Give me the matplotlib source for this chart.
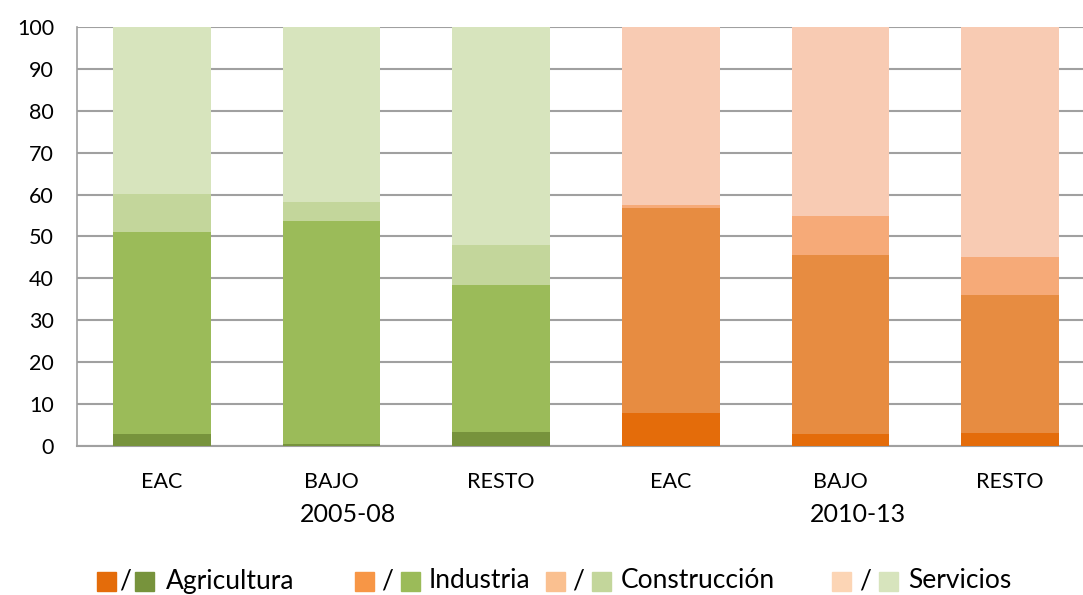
import matplotlib
matplotlib.use('Agg')
import matplotlib.pyplot as plt
from matplotlib.patches import Rectangle
import numpy as np

plt.rcParams['font.family'] = ['Lato', 'DejaVu Sans']

# data (% of total, per sector)
categories = ['EAC', 'BAJO', 'RESTO', 'EAC', 'BAJO', 'RESTO']
periods = ['2005-08', '2010-13']
sectors = ['Agricultura', 'Industria', 'Construcción', 'Servicios']
agricultura = [2.9, 0.5, 3.3, 7.8, 2.9, 3.1]
industria = [48.2, 53.2, 35.1, 49.0, 42.8, 33.0]
construccion = [9.0, 4.5, 9.6, 0.7, 9.3, 9.0]
servicios = [39.9, 41.8, 52.0, 42.5, 45.0, 54.9]

green = ['#77933C', '#9BBB59', '#C3D69B', '#D7E4BD']
orange_bar = ['#E46C0A', '#E78C41', '#F6AA78', '#F8CBB3']
orange_leg = ['#E46C0A', '#F79646', '#FAC090', '#FCD5B5']

fig = plt.figure(figsize=(10.83, 5.95), dpi=100)
W, H = 1083, 595
ax = fig.add_axes([77 / W, (H - 446) / H, 1018 / W, 419 / H])

x = np.arange(len(categories))
series = [agricultura, industria, construccion, servicios]
bottom = np.zeros(len(categories))
for i, vals in enumerate(series):
    cols = [green[i]] * 3 + [orange_bar[i]] * 3
    ax.bar(x, vals, width=0.576, bottom=bottom, color=cols, zorder=3,
           edgecolor='none')
    bottom += np.array(vals)

ax.set_xlim(-0.5, 5.5)
ax.set_ylim(0, 100)
ax.set_yticks(range(0, 101, 10))
ax.yaxis.grid(True, color='#A0A0A0', linewidth=1.5, zorder=0)
ax.set_axisbelow(True)
for s in ['top', 'right']:
    ax.spines[s].set_visible(False)
ax.spines['left'].set_color('#A0A0A0')
ax.spines['bottom'].set_color('#A0A0A0')
ax.spines['left'].set_linewidth(1.2)
ax.spines['bottom'].set_linewidth(1.5)
ax.tick_params(axis='y', length=0, pad=16.5, labelsize=15.5)
ax.set_xticks(x)
ax.set_xticklabels(categories, fontsize=15.5)
ax.tick_params(axis='x', length=0, pad=19)

for j, p in enumerate(periods):
    ax.text(1.1 + 3 * j, -16.3, p, ha='center', va='center', fontsize=18,
            transform=ax.transData)

# legend drawn as paired squares
items = [(97, 135, 166), (355, 401, 429), (546, 592, 621), (832, 879, 908)]
y_leg = 581
sq = 19
for k, (xo, xg, xt) in enumerate(items):
    fig.patches.append(Rectangle((xo / W, (H - y_leg - sq / 2) / H), sq / W, sq / H,
                                 transform=fig.transFigure, color=orange_leg[k]))
    fig.text((xo + sq + (xg - xo - sq) / 2) / W, (H - y_leg) / H, '/',
             ha='center', va='center', fontsize=19)
    fig.patches.append(Rectangle((xg / W, (H - y_leg - sq / 2) / H), sq / W, sq / H,
                                 transform=fig.transFigure, color=green[k]))
    fig.text(xt / W, (H - y_leg) / H, sectors[k], ha='left', va='center',
             fontsize=19)

fig.savefig('out.png', dpi=100)
